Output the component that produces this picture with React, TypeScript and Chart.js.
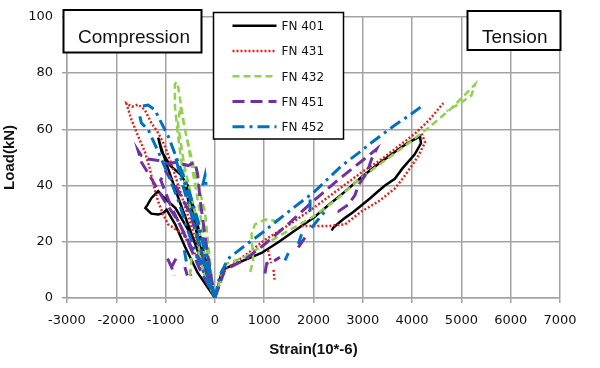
import React, { useEffect, useRef } from "react";
import { Chart, registerables } from "chart.js";
Chart.register(...registerables);

// ---- data (strain 10^-6, load kN) ----
const seriesLabels = ["FN 401", "FN 431", "FN 432", "FN 451", "FN 452"];
const boxLabels = ["Compression", "Tension"];
const xTitle = "Strain(10*-6)";
const yTitle = "Load(kN)";

const fn401Comp1 = [[0,0],[-250,12],[-500,24],[-750,36],[-950,46],[-1100,54],[-1150,57],[-1080,52],[-900,47],[-700,44],[-550,40],[-400,30],[-250,18],[-100,7],[0,0]];
const fn401Comp2 = [[0,0],[-400,20],[-800,32],[-1050,36],[-1150,38],[-1290,35.5],[-1370,33],[-1410,32],[-1290,30],[-1150,29.7],[-1050,30.2],[-980,31.4],[-800,26],[-600,18],[-350,9],[0,0]];
const fn401Comp3 = [[0,0],[-200,14],[-450,30],[-600,40],[-520,33],[-350,22],[-150,8],[0,0]];
const fn401Ten = [[0,0],[150,10],[270,11],[600,13.5],[946,16],[1300,20],[1624,24],[2000,28.5],[2300,33],[2650,38],[2976,43],[3300,47.5],[3654,52],[3900,55],[4160,57.5],[4180,55],[4050,51],[3800,46],[3650,42.4],[3450,40],[3300,37.8],[3150,35.5],[2976,33],[2800,30.5],[2640,28.5],[2500,26.5],[2400,25],[2370,24]];

const fn431Comp1 = [[0,0],[-272,11],[-406,15.7],[-643,22.7],[-948,26.2],[-1049,29.7],[-1151,34.3],[-1252,40.5],[-1320,46],[-1421,52],[-1557,57.6],[-1693,63.4],[-1794,69.2],[-1680,68],[-1557,68.8],[-1421,66.9],[-1287,62.2],[-1151,58.7],[-1015,54.1],[-850,46],[-650,35],[-450,24],[-250,13],[0,0]];
const fn431Comp2 = [[-508,9.9],[-475,7]];
const fn431Ten = [[0,0],[200,10],[600,15],[1000,20.5],[1500,26],[2000,32],[2500,38.5],[3000,45],[3315,48.5],[3654,53],[4060,58.5],[4330,63],[4634,69.3]];
const fn431Ret = [[4195,58.5],[4263,55.3],[4128,50.6],[3991,47],[3857,43.6],[3654,39],[3315,34.3],[2976,30.8],[2640,26.2],[2300,25.6],[2000,25.6],[1758,25.6]];
const fn431Small1 = [[1080,17],[1140,12.4]];
const fn431Small2 = [[1190,10],[1210,6.5]];

const fn432Comp1 = [[0,0],[-34,2],[-101,13.4],[-203,30.8],[-406,44.8],[-609,60],[-700,70],[-745,75],[-779,76.8],[-812,76],[-810,68],[-750,58],[-678,48.3],[-540,35],[-406,25],[-203,7.5],[0,0]];
const fn432Comp2 = [[0,0],[-300,30],[-550,55],[-700,68],[-750,62],[-620,47],[-400,30],[-200,14],[0,0]];
const fn432Comp3 = [[-475,14.3],[-508,6.7]];
const fn432Comp4 = [[-339,16.6],[-203,7.3]];
const fn432Ten = [[0,0],[200,12],[600,14.5],[1000,19],[1500,24],[2000,29],[2500,35.5],[2909,42],[3300,47],[3654,51.5],[3924,55],[4330,60.5],[4800,67.5],[5278,76],[5200,72],[5000,69.5],[4700,66.5]];
const fn432Loop = [[1285,27.3],[1015,27.9],[812,26.2],[743,22.7],[777,13.4],[710,8.7]];

const fn451Comp1 = [[0,0],[-203,11],[-475,18],[-745,27.3],[-1015,34.3],[-1287,42.4],[-1490,48.3],[-1557,52.4],[-1490,50.6],[-1354,49.4],[-1151,48.9],[-948,47.7],[-812,48.3],[-542,47.1],[-406,48.3],[-350,44],[-300,35],[-200,22],[-100,10],[0,0]];
const fn451Comp2 = [[0,0],[-500,30],[-800,40],[-1000,45],[-1100,42],[-900,33],[-600,22],[-300,10],[0,0]];
const fn451Small1 = [[-960,14],[-880,11],[-820,8]];
const fn451Small2 = [[-880,11],[-790,14]];
const fn451Small3 = [[-609,11],[-560,8]];
const fn451Ten = [[0,0],[200,10],[600,13.5],[1000,19],[1500,26.5],[1995,34.5],[2500,42],[3000,49],[3280,53],[3179,49.4],[3112,46],[3045,43.6],[2909,40],[2842,36.6],[2706,33.2],[2503,30.8],[2400,31.5]];
const fn451Small4 = [[1015,8.7],[1049,12.2],[1218,13.4],[1320,14.5]];
const fn451Small5 = [[1691,18],[1827,21.5]];

const fn452Comp1 = [[0,0],[-34,1.7],[-136,13.4],[-339,27.3],[-542,39],[-745,48.3],[-948,57.6],[-1083,62.2],[-1218,66.9],[-1354,68.6],[-1557,68]];
const fn452Comp2 = [[-1523,64.6],[-1490,62.2],[-1354,59.9],[-1150,52],[-950,44],[-750,35],[-550,24],[-300,12],[0,0]];
const fn452Comp3 = [[0,0],[-250,20],[-500,35],[-700,45],[-800,50],[-650,40],[-400,25],[-150,8],[0,0]];
const fn452Small1 = [[-250,40],[-200,43.6],[-170,39]];
const fn452Small2 = [[-620,17],[-580,13]];
const fn452Ten = [[0,0],[100,8],[270,14],[600,18.5],[946,23],[1300,28],[1624,32.5],[2000,37.5],[2300,42.5],[2570,47],[2909,51.5],[3179,55.3],[3654,61.5],[3950,65],[4229,68.6]];
const fn452Small3 = [[1421,13.4],[1490,16]];
const fn452Small4 = [[1691,19.2],[1758,22.7]];
const fn452Small5 = [[1961,25],[2100,28],[2233,30.8]];
const fn452Small6 = [[1930,35],[1930,30]];

const seriesSegments = [
  [fn401Comp1, fn401Comp2, fn401Comp3, fn401Ten],
  [fn431Comp1, fn431Comp2, fn431Ten, fn431Ret, fn431Small1, fn431Small2],
  [fn432Comp1, fn432Comp2, fn432Comp3, fn432Comp4, fn432Ten, fn432Loop],
  [fn451Comp1, fn451Comp2, fn451Small1, fn451Small2, fn451Small3, fn451Ten, fn451Small4, fn451Small5],
  [fn452Comp1, fn452Comp2, fn452Comp3, fn452Small1, fn452Small2, fn452Ten, fn452Small3, fn452Small4, fn452Small5, fn452Small6],
];

// ---- styles ----
const seriesColors = ["#000000", "#e0231f", "#92d050", "#7030a0", "#0070c0"];
const seriesDash = [[], [2, 2], [7, 4], [12, 6], [12, 5, 3, 5]];
const seriesWidth = [2.5, 2.5, 2.5, 3, 3];
const gridColor = "#a3a3a3";

function toPoints(segs: number[][][]) {
  const out: { x: number; y: number | null }[] = [];
  segs.forEach((seg, i) => {
    if (i > 0) out.push({ x: seg[0][0], y: null });
    seg.forEach((p) => out.push({ x: p[0], y: p[1] }));
  });
  return out;
}

const overlayPlugin = {
  id: "overlay",
  afterDraw(chart: any) {
    const ctx = chart.ctx as CanvasRenderingContext2D;
    ctx.save();
    // text boxes
    const boxes = [
      { l: 63.5, t: 10, r: 201.5, b: 52.5, cx: 134, base: 43, text: boxLabels[0] },
      { l: 467.5, t: 11, r: 560.5, b: 50, cx: 514.7, base: 42.5, text: boxLabels[1] },
    ];
    boxes.forEach((bx) => {
      ctx.fillStyle = "#fff";
      ctx.fillRect(bx.l, bx.t, bx.r - bx.l, bx.b - bx.t);
      ctx.strokeStyle = "#000";
      ctx.lineWidth = 2;
      ctx.setLineDash([]);
      ctx.strokeRect(bx.l, bx.t, bx.r - bx.l, bx.b - bx.t);
      ctx.fillStyle = "#111";
      ctx.font = "19px 'Liberation Sans'";
      ctx.textAlign = "center";
      ctx.textBaseline = "alphabetic";
      ctx.fillText(bx.text, bx.cx, bx.base);
    });
    // legend
    const L = 213.5, T = 12.5, R = 343.5, B = 139;
    ctx.fillStyle = "#fff";
    ctx.fillRect(L, T, R - L, B - T);
    ctx.strokeStyle = "#000";
    ctx.lineWidth = 1.5;
    ctx.strokeRect(L, T, R - L, B - T);
    chart.data.datasets.forEach((ds: any, i: number) => {
      const y = 25.7 + i * 25.25;
      ctx.beginPath();
      ctx.strokeStyle = ds.borderColor;
      ctx.lineWidth = ds.borderWidth;
      ctx.setLineDash(ds.borderDash || []);
      ctx.moveTo(232.5, y);
      ctx.lineTo(276.5, y);
      ctx.stroke();
      ctx.setLineDash([]);
      ctx.fillStyle = "#111";
      ctx.font = "12px 'DejaVu Sans'";
      ctx.textAlign = "left";
      ctx.textBaseline = "alphabetic";
      ctx.fillText(ds.label, 281.5, y + 4.5);
    });
    ctx.restore();
  },
};

export default function App() {
  const ref = useRef<HTMLCanvasElement>(null);
  useEffect(() => {
    const datasets = seriesLabels.map((label, i) => ({
      label,
      data: toPoints(seriesSegments[i]),
      showLine: true,
      borderColor: seriesColors[i],
      backgroundColor: seriesColors[i],
      borderWidth: seriesWidth[i],
      borderDash: seriesDash[i],
      pointRadius: 0,
      spanGaps: false,
      order: seriesLabels.length - i,
    }));
    const tickFont = { family: "DejaVu Sans", size: 13 };
    const titleFont = { family: "Liberation Sans", size: 15, weight: "bold" as const };
    const chart = new Chart(ref.current as HTMLCanvasElement, {
      type: "scatter",
      data: { datasets: datasets as any },
      options: {
        responsive: false,
        devicePixelRatio: 1,
        animation: false,
        layout: { padding: { left: 0, right: 40, top: 12, bottom: 0 } },
        plugins: { legend: { display: false }, tooltip: { enabled: false } },
        elements: { line: { tension: 0 }, point: { radius: 0 } },
        scales: {
          x: {
            type: "linear",
            min: -3000,
            max: 7000,
            afterFit: (s: any) => { s.height = 70; },
            ticks: { stepSize: 1000, autoSkip: false, maxRotation: 0, font: tickFont, color: "#111", padding: 10, callback: (v: any) => String(v) },
            grid: { color: gridColor, lineWidth: 1.5, tickLength: 5 },
            border: { color: gridColor, width: 1.5 },
            title: { display: true, text: xTitle, font: titleFont, color: "#111", padding: { top: 0, bottom: 9 } },
          },
          y: {
            type: "linear",
            min: 0,
            max: 100,
            afterFit: (s: any) => { s.width = 67; },
            ticks: { stepSize: 20, font: tickFont, color: "#111", padding: 9, callback: (v: any) => String(v) },
            grid: { color: gridColor, lineWidth: 1.5, tickLength: 5 },
            border: { color: gridColor, width: 1.5 },
            title: { display: true, text: yTitle, font: titleFont, color: "#111", padding: { top: 1, bottom: 0 } },
          },
        },
      } as any,
      plugins: [overlayPlugin],
    });
    return () => chart.destroy();
  }, []);
  return (
    <div style={{ position: "absolute", left: 0, top: 0, width: 600, height: 368, background: "#fff" }}>
      <canvas ref={ref} width={600} height={368} style={{ display: "block", width: 600, height: 368 }} />
    </div>
  );
}
